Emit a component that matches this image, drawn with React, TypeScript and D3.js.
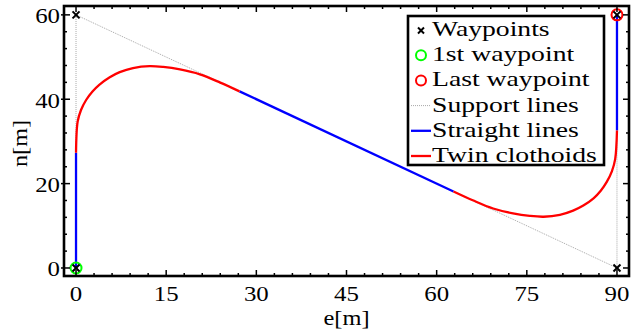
import React from "react";
import * as d3 from "d3";

// Waypoints of the route (east, north) in metres
const waypointsE = [0, 0, 90, 90];
const waypointsN = [0, 60, 0, 60];

// Straight segments of the planned path
const straightSegments: [number, number][][] = [
  [[0, 0], [0, 27.3]],
  [[27.2, 41.87], [62.8, 18.13]],
  [[90, 32.6], [90, 60]],
];

// Twin clothoid turns
const clothoid1: [number, number][] = [
  [0, 27.3], [0.27, 34.68], [0.83, 37.45], [1.68, 39.82], [2.74, 41.83],
  [3.86, 43.42], [5.61, 45.22], [7.27, 46.43], [9.48, 47.4], [12.24, 47.85],
  [14.5, 47.65], [17.3, 47.05], [20.6, 45.9], [24.0, 43.95], [27.2, 41.87],
];
const clothoid2: [number, number][] = [
  [62.8, 18.13], [66.0, 16.05], [69.4, 14.1], [72.7, 12.95], [75.5, 12.35],
  [77.8, 12.15], [80.5, 12.6], [82.7, 13.6], [84.4, 14.8], [86.1, 16.5],
  [87.3, 18.3], [88.3, 20.4], [89.15, 22.9], [89.7, 25.8], [90, 32.6],
];

const xTicks = [0, 15, 30, 45, 60, 75, 90];
const yTicks = [0, 20, 40, 60];
const legendLabels = [
  "Waypoints",
  "1st waypoint",
  "Last waypoint",
  "Support lines",
  "Straight lines",
  "Twin clothoids",
];

const W = 631;
const H = 335;
const FONT = "'Liberation Serif', 'DejaVu Serif', serif";

export default function App() {
  const x = d3.scaleLinear().domain([-2, 92]).range([64, 629]);
  const y = d3.scaleLinear().domain([-1.9, 62.1]).range([276, 6]);
  const line = d3
    .line<[number, number]>()
    .x((d) => x(d[0]))
    .y((d) => y(d[1]));
  const smooth = d3
    .line<[number, number]>()
    .x((d) => x(d[0]))
    .y((d) => y(d[1]))
    .curve(d3.curveCatmullRom.alpha(0.5));

  const support: [number, number][] = waypointsE.map((e, i) => [e, waypointsN[i]]);

  const xMinor = d3.range(0, 93, 3).filter((v) => v % 15 !== 0);
  const yMinor = d3.range(0, 63, 4).filter((v) => v % 20 !== 0);

  const [x0, x1] = x.range();
  const [yb, yt] = y.range();

  const cross = (cx: number, cy: number, s: number, key: string) => (
    <g key={key} stroke="#000" strokeWidth={2}>
      <line x1={cx - s} y1={cy - s} x2={cx + s} y2={cy + s} />
      <line x1={cx - s} y1={cy + s} x2={cx + s} y2={cy - s} />
    </g>
  );

  const legX = 408;
  const legY = 16;
  const legW = 196;
  const legH = 149;
  const rowBase = (i: number) => 36 + i * 25.2;

  return (
    <div style={{ position: "fixed", left: 0, top: 0 }}>
      <svg width={W} height={H} style={{ display: "block", background: "#fff" }}>
        <rect width={W} height={H} fill="#fff" />
        {/* support lines */}
        <path
          d={line(support) || ""}
          fill="none"
          stroke="#a8a8a8"
          strokeWidth={1}
          strokeDasharray="1,1"
        />
        {/* straight lines */}
        {straightSegments.map((s, i) => (
          <path key={"s" + i} d={line(s) || ""} fill="none" stroke="#0000ff" strokeWidth={2.3} />
        ))}
        {/* clothoids */}
        {[clothoid1, clothoid2].map((c, i) => (
          <path key={"c" + i} d={smooth(c) || ""} fill="none" stroke="#ff0000" strokeWidth={2.3} />
        ))}
        {/* first and last waypoint */}
        <circle cx={x(waypointsE[0])} cy={y(waypointsN[0])} r={5.5} fill="none" stroke="#00ff00" strokeWidth={2} />
        <circle
          cx={x(waypointsE[waypointsE.length - 1])}
          cy={y(waypointsN[waypointsN.length - 1])}
          r={5.5}
          fill="none"
          stroke="#ff0000"
          strokeWidth={2}
        />
        {waypointsE.map((e, i) => cross(x(e), y(waypointsN[i]), 3.5, "w" + i))}

        {/* ticks */}
        <g stroke="#000" strokeWidth={1.5}>
          {xTicks.map((t) => (
            <g key={"xt" + t}>
              <line x1={x(t)} x2={x(t)} y1={yb} y2={yb - 6} />
              <line x1={x(t)} x2={x(t)} y1={yt} y2={yt + 6} />
            </g>
          ))}
          {xMinor.map((t) => (
            <g key={"xm" + t}>
              <line x1={x(t)} x2={x(t)} y1={yb} y2={yb - 3} />
              <line x1={x(t)} x2={x(t)} y1={yt} y2={yt + 3} />
            </g>
          ))}
          {yTicks.map((t) => (
            <g key={"yt" + t}>
              <line x1={x0 - 3} x2={x0 + 6} y1={y(t)} y2={y(t)} />
              <line x1={x1} x2={x1 - 6} y1={y(t)} y2={y(t)} />
            </g>
          ))}
          {yMinor.map((t) => (
            <g key={"ym" + t}>
              <line x1={x0} x2={x0 + 3} y1={y(t)} y2={y(t)} />
              <line x1={x1} x2={x1 - 3} y1={y(t)} y2={y(t)} />
            </g>
          ))}
        </g>
        {/* frame */}
        <rect x={x0} y={yt} width={x1 - x0} height={yb - yt} fill="none" stroke="#000" strokeWidth={2.6} />

        {/* tick labels */}
        <g style={{ fontFamily: FONT }} fontSize={22} fill="#000">
          {xTicks.map((t) => (
            <text key={"xl" + t} transform={`translate(${x(t)},301) scale(1.13,1)`} textAnchor="middle">
              {t}
            </text>
          ))}
          {yTicks.map((t) => (
            <text key={"yl" + t} transform={`translate(60,${y(t) + 8.5}) scale(1.13,1)`} textAnchor="end">
              {t}
            </text>
          ))}
          <text transform={`translate(${(x0 + x1) / 2},325) scale(1.11,1)`} textAnchor="middle">
            e[m]
          </text>
          <text transform={`translate(27,143.5) rotate(-90) scale(1.1,1)`} textAnchor="middle">
            n[m]
          </text>
        </g>

        {/* legend */}
        <rect x={legX} y={legY} width={legW} height={legH} fill="#fff" stroke="#000" strokeWidth={2.6} />
        <g>
          {cross(421, rowBase(0) - 5.5, 3, "lw")}
          <circle cx={421} cy={rowBase(1) - 6} r={5} fill="none" stroke="#00ff00" strokeWidth={2} />
          <circle cx={421} cy={rowBase(2) - 6} r={5} fill="none" stroke="#ff0000" strokeWidth={2} />
          <line x1={411} x2={431} y1={rowBase(3) - 6} y2={rowBase(3) - 6} stroke="#a8a8a8" strokeWidth={1} strokeDasharray="1,1" />
          <line x1={411} x2={431} y1={rowBase(4) - 6} y2={rowBase(4) - 6} stroke="#0000ff" strokeWidth={2.3} />
          <line x1={411} x2={431} y1={rowBase(5) - 6} y2={rowBase(5) - 6} stroke="#ff0000" strokeWidth={2.3} />
        </g>
        <g style={{ fontFamily: FONT }} fontSize={20.5} fill="#000">
          {legendLabels.map((l, i) => (
            <text key={l} transform={`translate(432,${rowBase(i)}) scale(1.35,1)`}>
              {l}
            </text>
          ))}
        </g>
      </svg>
    </div>
  );
}
